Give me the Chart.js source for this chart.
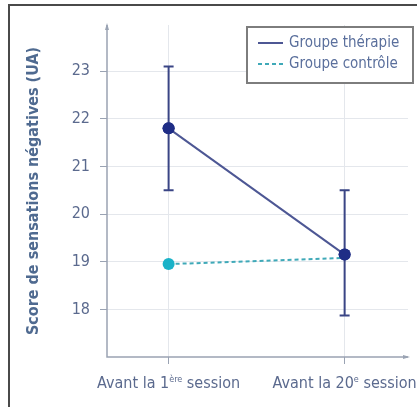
<!DOCTYPE html>
<html>
<head>
<meta charset="utf-8">
<script src="https://cdn.jsdelivr.net/npm/chart.js@4"></script>
<style>
  html, body { margin: 0; padding: 0; background: #fff; }
  #wrap { position: relative; width: 417px; height: 407px; overflow: hidden; }
  #frame { position: absolute; left: 8px; top: 4px; right: -4px; bottom: -4px;
           border-left: 2px solid #4a4a4a; border-top: 2px solid #4a4a4a; pointer-events: none; }
  canvas { position: absolute; left: 0; top: 0; }
</style>
</head>
<body>
<div id="wrap">
  <canvas id="chart" width="417" height="407"></canvas>
  <div id="frame"></div>
</div>
<script>
// categories (x positions 1 and 2), label parts: main text + superscript
const categories = [1, 2];
const categoryMain = [["Avant la 1", "ère", " session"], ["Avant la 20", "e", " session"]];
const therapyMeans = [21.8, 19.15];
const therapyLow = [20.5, 17.87];
const therapyHigh = [23.1, 20.5];
const controlMeans = [18.95, 19.08];
const yTicks = [18, 19, 20, 21, 22, 23];

const FONT = "'Liberation Sans Narrow', 'DejaVu Sans Condensed', sans-serif";
const TEXT = "#5b6a8e";

const errorBars = {
    id: 'errorBars',
    afterDatasetsDraw(chart) {
        const { ctx, scales: { x, y } } = chart;
        ctx.save();
        ctx.strokeStyle = "#3a4585";
        ctx.lineWidth = 2;
        categories.forEach((c, i) => {
            const px = x.getPixelForValue(c);
            const lo = y.getPixelForValue(therapyLow[i]);
            const hi = y.getPixelForValue(therapyHigh[i]);
            ctx.beginPath();
            ctx.moveTo(px, lo); ctx.lineTo(px, hi);
            ctx.moveTo(px - 5, lo); ctx.lineTo(px + 5, lo);
            ctx.moveTo(px - 5, hi); ctx.lineTo(px + 5, hi);
            ctx.stroke();
        });
        // redraw therapy points above bars
        const meta = chart.getDatasetMeta(0);
        meta.data.forEach(p => {
            ctx.beginPath();
            ctx.fillStyle = "#1f2d86";
            ctx.arc(p.x, p.y, 6, 0, Math.PI * 2);
            ctx.fill();
        });
        ctx.restore();
    }
};

const axesDecor = {
    id: 'axesDecor',
    afterDraw(chart) {
        const { ctx, chartArea: a, scales: { x } } = chart;
        ctx.save();
        ctx.strokeStyle = "#9aa3b3";
        ctx.fillStyle = "#9aa3b3";
        ctx.lineWidth = 1.5;
        ctx.beginPath();
        ctx.moveTo(a.left, a.top); ctx.lineTo(a.left, a.bottom); ctx.lineTo(a.right, a.bottom);
        ctx.stroke();
        // arrow heads
        ctx.beginPath();
        ctx.moveTo(a.left, a.top - 2); ctx.lineTo(a.left - 2, a.top + 5); ctx.lineTo(a.left + 2, a.top + 5); ctx.fill();
        ctx.beginPath();
        ctx.moveTo(a.right + 2, a.bottom); ctx.lineTo(a.right - 5, a.bottom - 2); ctx.lineTo(a.right - 5, a.bottom + 2); ctx.fill();
        // x labels with superscripts
        ctx.fillStyle = TEXT;
        ctx.textBaseline = "alphabetic";
        categories.forEach((c, i) => {
            const [m, s, e] = categoryMain[i];
            const big = "16px " + FONT, small = "9px " + FONT;
            ctx.font = big; const w1 = ctx.measureText(m).width, w3 = ctx.measureText(e).width;
            ctx.font = small; const w2 = ctx.measureText(s).width;
            let px = x.getPixelForValue(c) - (w1 + w2 + w3) / 2;
            const by = a.bottom + 31;
            ctx.font = big; ctx.fillText(m, px, by); px += w1;
            ctx.font = small; ctx.fillText(s, px, by - 6); px += w2;
            ctx.font = big; ctx.fillText(e, px, by);
        });
        // legend box
        const lx = 247, ly = 27, lw = 166, lh = 56;
        ctx.strokeStyle = "#7d7d7d";
        ctx.lineWidth = 2;
        ctx.fillStyle = "#fff";
        ctx.fillRect(lx, ly, lw, lh);
        ctx.strokeRect(lx, ly, lw, lh);
        chart.data.datasets.forEach((ds, i) => {
            const yy = ly + 16 + i * 21;
            ctx.strokeStyle = ds.borderColor;
            ctx.lineWidth = 2;
            ctx.setLineDash(ds.borderDash || []);
            ctx.beginPath(); ctx.moveTo(lx + 11, yy); ctx.lineTo(lx + 36, yy); ctx.stroke();
            ctx.setLineDash([]);
            ctx.fillStyle = "#5a6f9c";
            ctx.font = "15px " + FONT;
            ctx.textBaseline = "middle";
            ctx.fillText(ds.label, lx + 42, yy);
        });
        ctx.restore();
    }
};

new Chart(document.getElementById('chart'), {
    type: 'line',
    data: {
        datasets: [
            {
                label: "Groupe thérapie",
                data: categories.map((c, i) => ({ x: c, y: therapyMeans[i] })),
                borderColor: "#4d5794",
                backgroundColor: "#1f2d86",
                borderWidth: 2,
                pointRadius: 6,
                pointBorderWidth: 0,
                order: 2
            },
            {
                label: "Groupe contrôle",
                data: categories.map((c, i) => ({ x: c, y: controlMeans[i] })),
                borderColor: "#3fa9b8",
                backgroundColor: "#1ab2c8",
                borderWidth: 2,
                borderDash: [4, 3],
                pointRadius: [6, 0],
                pointBorderWidth: 0,
                order: 1
            }
        ]
    },
    options: {
        responsive: false,
        animation: false,
        layout: { padding: { top: 25, right: 9, left: 0, bottom: 0 } },
        plugins: { legend: { display: false }, tooltip: { enabled: false } },
        scales: {
            x: {
                type: 'linear',
                min: 0.65,
                max: 2.36,
                afterBuildTicks(s) { s.ticks = categories.map(v => ({ value: v })); },
                afterFit(s) { s.height = 50; },
                ticks: { display: false },
                border: { display: false },
                grid: { color: "#e4e7ec", lineWidth: 1, tickLength: 7, tickColor: "#9aa3b3" }
            },
            y: {
                min: 17,
                max: 23.97,
                afterBuildTicks(s) { s.ticks = yTicks.map(v => ({ value: v })); },
                afterFit(s) { s.width = 107; },
                border: { display: false },
                grid: { color: "#e4e7ec", lineWidth: 1, tickLength: 7, tickColor: "#9aa3b3" },
                ticks: { color: TEXT, font: { family: FONT, size: 16 }, padding: 10 },
                title: {
                    display: true,
                    text: "Score de sensations négatives (UA)",
                    color: "#4f6a90",
                    font: { family: FONT, size: 16, weight: 'bold' },
                    padding: { top: 24, bottom: 0 }
                }
            }
        }
    },
    plugins: [errorBars, axesDecor]
});
</script>
</body>
</html>
